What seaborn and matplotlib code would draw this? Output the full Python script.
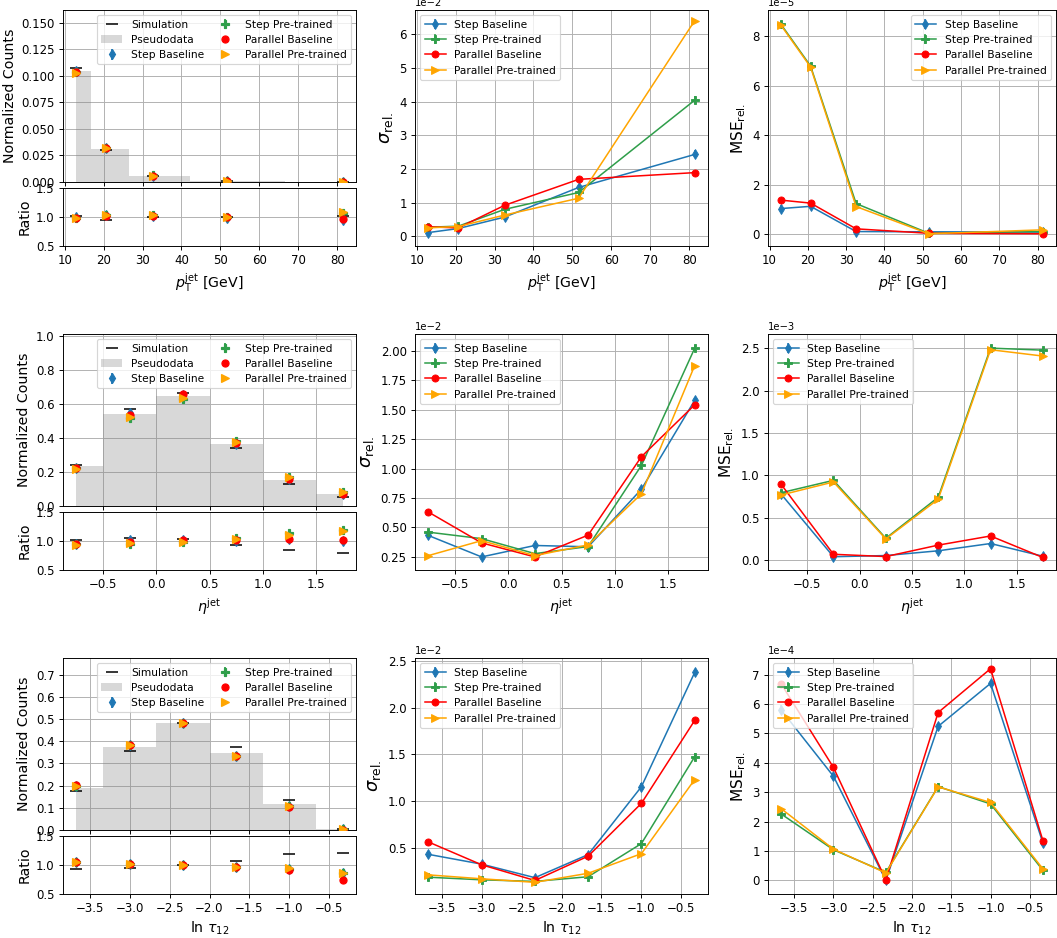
import numpy as np
import pandas as pd
import matplotlib
matplotlib.use("Agg")
import matplotlib.pyplot as plt
from matplotlib.ticker import MultipleLocator
import seaborn as sns
from matplotlib.legend_handler import HandlerTuple

plt.rcParams['font.family'] = ['DejaVu Sans']
plt.rcParams['axes.grid'] = True

# ---------------- data ----------------
methods = ["Step Baseline", "Step Pre-trained", "Parallel Baseline", "Parallel Pre-trained"]

# pT jet
pt_x = [13.0, 20.7, 32.6, 51.6, 81.4]
pt_pseudo = [0.1044, 0.0312, 0.0059, 0.0006, 0.00005]
pt_sim_ratio = [1.025, 0.955, 1.00, 1.00, 1.02]
pt_ratio_sb = [1.00, 1.03, 1.01, 0.98, 0.95]
pt_ratio_sp = [0.99, 1.04, 1.04, 1.00, 1.07]
pt_ratio_pb = [0.99, 1.02, 1.02, 1.00, 0.96]
pt_ratio_pp = [0.98, 1.03, 1.03, 1.00, 1.08]
pt_ratio_err = [0.02, 0.02, 0.02, 0.02, 0.03]
pt_sig_sb = [0.0011, 0.0023, 0.0057, 0.0145, 0.0243]
pt_sig_sp = [0.0027, 0.0030, 0.0080, 0.0130, 0.0404]
pt_sig_pb = [0.0028, 0.0025, 0.0092, 0.0169, 0.0189]
pt_sig_pp = [0.0025, 0.0029, 0.0063, 0.0113, 0.0640]
pt_sig_err = [0.0008, 0.0005, 0.0006, 0.0010, 0.0012]
pt_mse_sb = [1.03e-5, 1.12e-5, 0.10e-5, 0.09e-5, 0.08e-5]
pt_mse_sp = [8.47e-5, 6.79e-5, 1.23e-5, 0.03e-5, 0.10e-5]
pt_mse_pb = [1.37e-5, 1.25e-5, 0.21e-5, 0.03e-5, 0.01e-5]
pt_mse_pp = [8.43e-5, 6.75e-5, 1.11e-5, 0.01e-5, 0.17e-5]
pt_mse_err = [0.15e-5, 0.12e-5, 0.08e-5, 0.08e-5, 0.08e-5]

# eta jet
eta_x = [-0.75, -0.25, 0.25, 0.75, 1.25, 1.75]
eta_pseudo = [0.235, 0.539, 0.643, 0.363, 0.153, 0.069]
eta_sim_ratio = [1.02, 1.055, 1.03, 0.935, 0.85, 0.79]
eta_ratio_sb = [0.94, 1.01, 1.01, 1.00, 1.03, 1.00]
eta_ratio_sp = [0.94, 0.955, 0.98, 1.05, 1.13, 1.19]
eta_ratio_pb = [0.94, 0.99, 1.02, 1.02, 1.04, 1.01]
eta_ratio_pp = [0.93, 0.965, 0.99, 1.04, 1.11, 1.18]
eta_ratio_err = [0.02, 0.03, 0.02, 0.03, 0.03, 0.03]
eta_sig_sb = [0.00432, 0.00250, 0.00347, 0.00336, 0.00824, 0.01578]
eta_sig_sp = [0.00460, 0.00405, 0.00278, 0.00338, 0.01026, 0.02020]
eta_sig_pb = [0.00631, 0.00369, 0.00250, 0.00435, 0.01100, 0.01540]
eta_sig_pp = [0.00261, 0.00388, 0.00261, 0.00352, 0.00785, 0.01873]
eta_sig_err = [0.0002, 0.0002, 0.0002, 0.0002, 0.0003, 0.0003]
eta_mse_sb = [0.78e-3, 0.04e-3, 0.054e-3, 0.11e-3, 0.196e-3, 0.046e-3]
eta_mse_sp = [0.796e-3, 0.942e-3, 0.258e-3, 0.742e-3, 2.504e-3, 2.48e-3]
eta_mse_pb = [0.896e-3, 0.069e-3, 0.042e-3, 0.177e-3, 0.285e-3, 0.031e-3]
eta_mse_pp = [0.769e-3, 0.923e-3, 0.250e-3, 0.719e-3, 2.485e-3, 2.41e-3]
eta_mse_err = [0.03e-3, 0.03e-3, 0.03e-3, 0.03e-3, 0.04e-3, 0.03e-3]

# ln tau12
tau_x = [-3.667, -3.0, -2.333, -1.667, -1.0, -0.333]
tau_pseudo = [0.190, 0.375, 0.483, 0.348, 0.115, 0.003]
tau_sim_ratio = [0.93, 0.945, 1.00, 1.07, 1.19, 1.21]
tau_ratio_sb = [1.05, 1.02, 1.00, 0.96, 0.93, 0.86]
tau_ratio_sp = [1.05, 1.02, 1.00, 0.96, 0.93, 0.87]
tau_ratio_pb = [1.06, 1.02, 1.00, 0.96, 0.92, 0.75]
tau_ratio_pp = [1.05, 1.02, 1.00, 0.96, 0.94, 0.86]
tau_ratio_err = [0.02, 0.02, 0.01, 0.02, 0.02, 0.03]
tau_sig_sb = [0.00430, 0.00325, 0.00180, 0.00427, 0.01154, 0.02378]
tau_sig_sp = [0.00185, 0.00157, 0.00140, 0.00190, 0.00545, 0.01475]
tau_sig_pb = [0.00563, 0.00318, 0.00150, 0.00410, 0.00976, 0.01864]
tau_sig_pp = [0.00210, 0.00168, 0.00130, 0.00227, 0.00437, 0.01231]
tau_sig_err = [0.0004, 0.0002, 0.0002, 0.0002, 0.0004, 0.0004]
tau_mse_sb = [5.80e-4, 3.54e-4, 0.00e-4, 5.24e-4, 6.70e-4, 1.27e-4]
tau_mse_sp = [2.26e-4, 1.04e-4, 0.27e-4, 3.19e-4, 2.60e-4, 0.34e-4]
tau_mse_pb = [6.69e-4, 3.84e-4, 0.02e-4, 5.71e-4, 7.20e-4, 1.35e-4]
tau_mse_pp = [2.44e-4, 1.06e-4, 0.25e-4, 3.18e-4, 2.65e-4, 0.39e-4]
tau_mse_err = [0.15e-4, 0.12e-4, 0.10e-4, 0.12e-4, 0.12e-4, 0.10e-4]

xlabels = [r"$p_\mathrm{T}^\mathrm{jet}$ [GeV]", r"$\eta^\mathrm{jet}$", r"$\ln\,\tau_{12}$"]

# ---------------- styles ----------------
colors = ["#1f77b4", "#2f9e4a", "red", "orange"]
markers = ["d", "P", "o", ">"]
has_err = [True, True, False, False]

TICK = 10
LAB = 12
LEG = 9

DPI = 85
W, H = 1057, 938
fig = plt.figure(figsize=(W / DPI, H / DPI), dpi=DPI)

col_left = [63, 415, 768]
col_w = [293, 293, 288]
row_top = [10, 334, 658]
row_h = 236


def fa(x0, y0, w, h):
    return [x0 / W, 1 - (y0 + h) / H, w / W, h / H]


def style_ax(ax):
    ax.tick_params(labelsize=TICK)
    ax.grid(True, color="#b0b0b0", lw=0.8)
    ax.set_axisbelow(True)


variables = [
    dict(x=pt_x, pseudo=pt_pseudo, sim=pt_sim_ratio,
         ratios=[pt_ratio_sb, pt_ratio_sp, pt_ratio_pb, pt_ratio_pp], rerr=pt_ratio_err,
         sig=[pt_sig_sb, pt_sig_sp, pt_sig_pb, pt_sig_pp], serr=pt_sig_err,
         mse=[pt_mse_sb, pt_mse_sp, pt_mse_pb, pt_mse_pp], merr=pt_mse_err,
         ylim=(0, 0.162), ystep=0.025, xstep=10, sstep=0.01, mstep=2e-5,
         mse_loc="upper right"),
    dict(x=eta_x, pseudo=eta_pseudo, sim=eta_sim_ratio,
         ratios=[eta_ratio_sb, eta_ratio_sp, eta_ratio_pb, eta_ratio_pp], rerr=eta_ratio_err,
         sig=[eta_sig_sb, eta_sig_sp, eta_sig_pb, eta_sig_pp], serr=eta_sig_err,
         mse=[eta_mse_sb, eta_mse_sp, eta_mse_pb, eta_mse_pp], merr=eta_mse_err,
         ylim=(0, 1.01), ystep=0.2, xstep=0.5, sstep=0.0025, mstep=0.5e-3,
         mse_loc="upper left"),
    dict(x=tau_x, pseudo=tau_pseudo, sim=tau_sim_ratio,
         ratios=[tau_ratio_sb, tau_ratio_sp, tau_ratio_pb, tau_ratio_pp], rerr=tau_ratio_err,
         sig=[tau_sig_sb, tau_sig_sp, tau_sig_pb, tau_sig_pp], serr=tau_sig_err,
         mse=[tau_mse_sb, tau_mse_sp, tau_mse_pb, tau_mse_pp], merr=tau_mse_err,
         ylim=(0, 0.775), ystep=0.1, xstep=0.5, sstep=0.005, mstep=1e-4,
         mse_loc="upper left"),
]

for r, var in enumerate(variables):
    top = row_top[r]
    x = np.asarray(var["x"], dtype=float)
    pseudo = np.asarray(var["pseudo"], dtype=float)

    # ---------- left column: distribution + ratio ----------
    ax = fig.add_axes(fa(col_left[0], top, col_w[0], 172))
    axr = fig.add_axes(fa(col_left[0], top + 178, col_w[0], 58), sharex=ax)
    style_ax(ax)
    style_ax(axr)

    sim_ratio = np.asarray(var["sim"])
    h_sim, = ax.plot(x, sim_ratio * pseudo, ls="none", marker="_", color="black",
                     ms=10, mew=1.3, label="Simulation", zorder=3)
    edges = [float(x[0])] + [float(v) for v in (x[:-1] + x[1:]) / 2] + [float(x[-1])]
    df = pd.DataFrame({"x": x, "w": pseudo})
    n_before = len(ax.patches)
    sns.histplot(data=df, x="x", weights="w", bins=edges, ax=ax, color="gray",
                 alpha=0.3, linewidth=0, stat="count", zorder=2)
    h_pseudo = ax.patches[n_before]
    h_pseudo.set_label("Pseudodata")
    axr.plot(x, sim_ratio, ls="none", marker="_", color="black", ms=10, mew=1.3, zorder=3)

    handles = [h_sim, h_pseudo]
    rerr = np.asarray(var["rerr"])
    for i, name in enumerate(methods):
        ratio = np.asarray(var["ratios"][i])
        err = rerr if has_err[i] else None
        h = ax.errorbar(x, ratio * pseudo, yerr=None if err is None else err * pseudo,
                        fmt=markers[i], color=colors[i], ms=6, label=name, zorder=4 + i)
        axr.errorbar(x, ratio, yerr=err, fmt=markers[i], color=colors[i], ms=6, zorder=4 + i)
        handles.append(h)

    ax.set_ylim(*var["ylim"])
    ax.yaxis.set_major_locator(MultipleLocator(var["ystep"]))
    ax.xaxis.set_major_locator(MultipleLocator(var["xstep"]))
    ax.set_ylabel("Normalized Counts", fontsize=LAB)
    ax.set_xlabel("")
    ax.tick_params(labelbottom=False)
    ax.legend(handles=handles, labels=[hh.get_label() for hh in handles], ncol=2,
              loc="upper right", fontsize=LEG, framealpha=0.8, columnspacing=1.0)

    axr.set_ylim(0.5, 1.5)
    axr.set_yticks([0.5, 1.0, 1.5])
    axr.set_ylabel("Ratio", fontsize=LAB)
    axr.set_xlabel(xlabels[r], fontsize=LAB)

    # ---------- middle & right columns ----------
    for c, (key, ekey, ylabel, loc, step) in enumerate([
            ("sig", "serr", r"$\sigma_\mathrm{rel.}$", "upper left", var["sstep"]),
            ("mse", "merr", r"MSE$_\mathrm{rel.}$", var["mse_loc"], var["mstep"])]):
        axm = fig.add_axes(fa(col_left[c + 1], top, col_w[c + 1], row_h))
        style_ax(axm)
        hs = []
        for i, name in enumerate(methods):
            vals = np.asarray(var[key][i])
            sns.lineplot(x=x, y=vals, ax=axm, color=colors[i], marker=markers[i],
                         markersize=6, markeredgecolor=colors[i], lw=1.3,
                         legend=False, zorder=3 + i)
            line = axm.lines[-1]
            if has_err[i]:
                eb = axm.errorbar(x, vals, yerr=np.asarray(var[ekey]), fmt="none",
                                  ecolor=colors[i], elinewidth=1.3, zorder=3 + i)
                hs.append((line, eb))
            else:
                hs.append(line)
        axm.xaxis.set_major_locator(MultipleLocator(var["xstep"]))
        axm.yaxis.set_major_locator(MultipleLocator(step))
        axm.ticklabel_format(axis="y", style="sci", scilimits=(0, 0))
        axm.yaxis.get_offset_text().set_fontsize(TICK * 0.85)
        axm.set_xlabel(xlabels[r], fontsize=LAB)
        if c == 0:
            axm.set_ylabel(ylabel, fontsize=15)
        else:
            axm.set_ylabel(ylabel, fontsize=13)
        axm.legend(hs, methods, loc=loc, fontsize=LEG, framealpha=0.8,
                   handler_map={tuple: HandlerTuple(ndivide=1)})

fig.savefig("out.png", dpi=DPI)
